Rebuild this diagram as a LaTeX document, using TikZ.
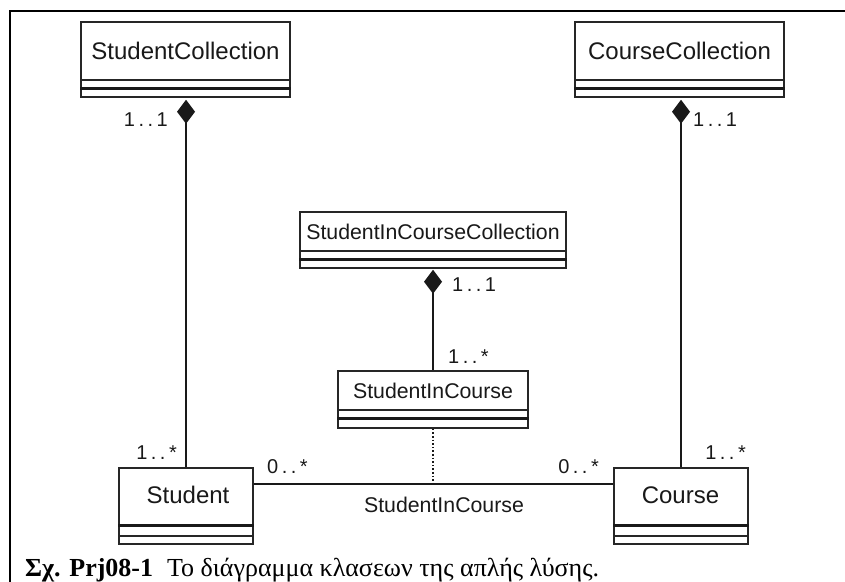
\documentclass[tikz,border=0pt]{standalone}
\usepackage{fontspec}
\setmainfont{Liberation Sans}
\newfontfamily\capfont{Liberation Serif}
\usetikzlibrary{arrows.meta,calc}
\newcommand\mult[2]{#1\hspace{3.5pt}.\hspace{3.5pt}.\hspace{3.5pt}#2}
\begin{document}
\begin{tikzpicture}[x=1pt,y=1pt,
  classbox/.style={draw=black!85, line width=1.5pt, inner sep=0pt, fill=white},
  bigname/.style={font=\fontsize{24}{28}\selectfont, inner sep=0pt, text=black!90},
  smallname/.style={font=\fontsize{21.3}{25}\selectfont, inner sep=0pt, text=black!90},
  multlabel/.style={font=\fontsize{20}{23}\selectfont, inner sep=0pt, text=black!90},
  thinsep/.style={draw=black!85, line width=1.5pt},
  thicksep/.style={draw=black!90, line width=2.8pt},
  assoc/.style={draw=black!90, line width=2.6pt},
  compo/.style={assoc, {Diamond[length=24pt,width=18pt]}-},
  dotline/.style={draw=black!90, line width=1.8pt, dash pattern=on 1.6pt off 2pt}
]
\useasboundingbox (0,0) rectangle (845,-581);
% frame
\coordinate (fl) at (10,-581);
\coordinate (ftl) at (10,-11);
\coordinate (ftr) at (845,-11);
\draw[line width=2.6pt, line cap=rect] (fl) -- (ftl) -- (ftr);

% StudentCollection
\node[classbox, minimum width=209pt, minimum height=75pt] (sc) at (185.5,-59.5) {};
\node[bigname] (sct) at (185.5,-51) {StudentCollection};
\draw[thinsep] ($(sc.south west)+(0,18)$) -- ($(sc.south east)+(0,18)$);
\draw[thicksep] ($(sc.south west)+(0,9)$) -- ($(sc.south east)+(0,9)$);

% CourseCollection
\node[classbox, minimum width=209pt, minimum height=75pt] (cc) at (679.5,-59.5) {};
\node[bigname] (cct) at (679.5,-51) {CourseCollection};
\draw[thinsep] ($(cc.south west)+(0,18)$) -- ($(cc.south east)+(0,18)$);
\draw[thicksep] ($(cc.south west)+(0,9)$) -- ($(cc.south east)+(0,9)$);

% StudentInCourseCollection
\node[classbox, minimum width=266pt, minimum height=56pt] (sicc) at (433,-240) {};
\node[smallname] (scct) at (433,-232) {StudentInCourseCollection};
\draw[thinsep] ($(sicc.south west)+(0,18)$) -- ($(sicc.south east)+(0,18)$);
\draw[thicksep] ($(sicc.south west)+(0,9)$) -- ($(sicc.south east)+(0,9)$);

% StudentInCourse
\node[classbox, minimum width=190pt, minimum height=57pt] (sic) at (433,-399.5) {};
\node[smallname] (sict) at (433,-391) {StudentInCourse};
\draw[thinsep] ($(sic.south west)+(0,19)$) -- ($(sic.south east)+(0,19)$);
\draw[thicksep] ($(sic.south west)+(0,10)$) -- ($(sic.south east)+(0,10)$);

% Student
\node[classbox, minimum width=134pt, minimum height=76pt] (st) at (186,-506) {};
\node[bigname] (stt) at (188,-495) {Student};
\draw[thicksep] ($(st.south west)+(0,19)$) -- ($(st.south east)+(0,19)$);
\draw[thinsep] ($(st.south west)+(0,9)$) -- ($(st.south east)+(0,9)$);

% Course
\node[classbox, minimum width=134pt, minimum height=76pt] (co) at (681,-506) {};
\node[bigname] (cot) at (680.5,-495) {Course};
\draw[thicksep] ($(co.south west)+(0,19)$) -- ($(co.south east)+(0,19)$);
\draw[thinsep] ($(co.south west)+(0,9)$) -- ($(co.south east)+(0,9)$);

% connectors
\draw[compo] ($(sc.south)+(0.5,-2)$) -- (st.north);
\draw[compo] ($(cc.south)+(1.5,-2)$) -- (co.north);
\draw[compo] ($(sicc.south)+(0,-1)$) -- (sic.north);
\draw[assoc] (st.east |- 0,-484) coordinate (al) -- (co.west |- 0,-484) coordinate (ar);
\coordinate (aj) at (433,-484);
\draw[dotline] (sic.south) -- (aj);
\node[smallname] (alab) at (444,-505) {StudentInCourse};

% multiplicities
\node[multlabel, anchor=east] (m1) at (168,-120) {\mult{1}{1}};
\node[multlabel, anchor=west] (m2) at (693,-120) {\mult{1}{1}};
\node[multlabel, anchor=west] (m3) at (452,-285) {\mult{1}{1}};
\node[multlabel, anchor=west] (m4) at (448,-357) {\mult{1}{*}};
\node[multlabel, anchor=east] (m5) at (177,-453) {\mult{1}{*}};
\node[multlabel, anchor=west] (m6) at (267,-467) {\mult{0}{*}};
\node[multlabel, anchor=east] (m7) at (599,-467) {\mult{0}{*}};
\node[multlabel, anchor=east] (m8) at (746,-453) {\mult{1}{*}};

% caption
\node[anchor=base west, inner sep=0pt, font=\capfont\fontsize{26}{30}\selectfont] (cap) at (25,-576)
  {\textbf{Σχ. Prj08-1}\hspace{14pt}Το διάγραμμα κλασεων της απλής λύσης.};
\end{tikzpicture}
\end{document}
